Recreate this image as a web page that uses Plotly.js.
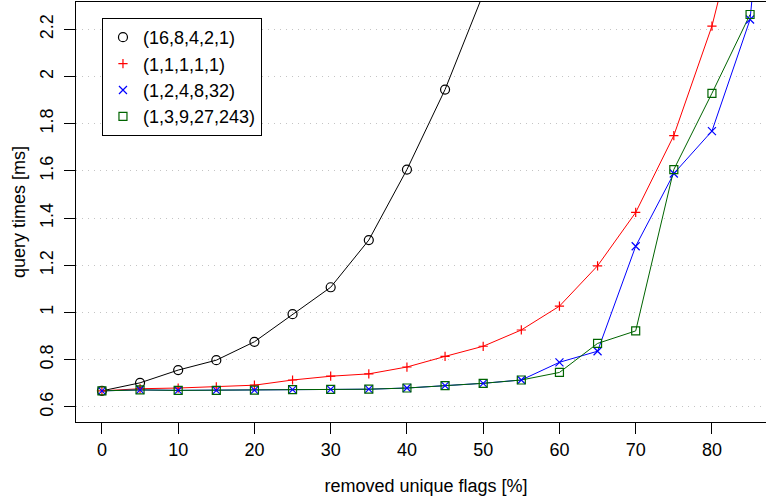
<!DOCTYPE html>
<html>
<head>
<meta charset="utf-8">
<script src="https://cdn.plot.ly/plotly-3.0.1.min.js"></script>
<style>
html,body{margin:0;padding:0;overflow:hidden;background:#fff;width:766px;height:499px;}
#chart{width:777px;height:499px;}
</style>
</head>
<body>
<div id="chart"></div>
<script>
// removed unique flags [%]
var removedPct = [0,5,10,15,20,25,30,35,40,45,50,55,60,65,70,75,80,85,90];
// query times [ms] per weighting
var seriesNames = ["(16,8,4,2,1)", "(1,1,1,1,1)", "(1,2,4,8,32)", "(1,3,9,27,243)"];
var times_16_8_4_2_1 = [0.668,0.702,0.756,0.798,0.876,0.993,1.107,1.307,1.606,1.945,2.35];
var times_1_1_1_1_1 = [0.668,0.677,0.680,0.685,0.692,0.714,0.730,0.740,0.769,0.814,0.857,0.926,1.027,1.198,1.424,1.750,2.214,2.86];
var times_1_2_4_8_32 = [0.668,0.672,0.670,0.670,0.671,0.673,0.674,0.675,0.680,0.690,0.700,0.714,0.789,0.836,1.281,1.589,1.769,2.242,3.95];
var times_1_3_9_27_243 = [0.668,0.672,0.670,0.670,0.671,0.673,0.674,0.675,0.680,0.690,0.700,0.714,0.746,0.869,0.922,1.606,1.929,2.263];
var xTickVals = [0,10,20,30,40,50,60,70,80];
var yTickVals = [0.6,0.8,1.0,1.2,1.4,1.6,1.8,2.0,2.2];
var yTickText = ["0.6","0.8","1","1.2","1.4","1.6","1.8","2","2.2"];

var allY = [times_16_8_4_2_1, times_1_1_1_1_1, times_1_2_4_8_32, times_1_3_9_27_243];
var colors = ["#000000", "#ff0000", "#0000ff", "#006400"];
var symbols = ["circle-open", "cross-thin-open", "x-thin-open", "square-open"];
var sizes = [9, 6.6, 8, 8];

var traces = [];
// connecting lines
for (var i = 0; i < 4; i++) {
  traces.push({x: removedPct.slice(0, allY[i].length), y: allY[i], type: "scatter", mode: "lines",
    line: {color: colors[i], width: 1}, showlegend: false, hoverinfo: "skip"});
}
// point symbols
for (var i = 0; i < 4; i++) {
  traces.push({x: removedPct.slice(0, allY[i].length), y: allY[i], type: "scatter", mode: "markers",
    name: seriesNames[i],
    marker: {color: colors[i], size: sizes[i], symbol: symbols[i], line: {color: colors[i], width: 1.2}}});
}

var font = {family: "Liberation Sans, Arial, Helvetica, sans-serif", size: 18, color: "#000"};
var xRange = [-3.4, 88.4], yRange = [0.536, 2.316];
var layout = {
  width: 777, height: 499,
  margin: {l: 76, r: 1, t: 2, b: 77},
  paper_bgcolor: "#fff", plot_bgcolor: "#fff",
  font: font,
  showlegend: true,
  legend: {x: 0.0371, y: 0.962, xanchor: "left", yanchor: "top", bgcolor: "#fff",
    bordercolor: "#000", borderwidth: 1, font: font, tracegroupgap: 0},
  xaxis: {
    range: xRange, tickmode: "array", tickvals: xTickVals, ticktext: xTickVals.map(String),
    showgrid: false, zeroline: false, showline: true, linecolor: "#000", linewidth: 1, mirror: true,
    ticks: "outside", ticklen: 11, tickcolor: "#000", tickwidth: 1, ticklabelstandoff: 0,
    title: {text: "removed unique flags [%]", font: font, standoff: 20}
  },
  yaxis: {
    range: yRange, tickmode: "array", tickvals: yTickVals, ticktext: yTickText, tickangle: -90,
    showgrid: true, gridcolor: "#c4c4c4", gridwidth: 1, griddash: "1px,5px",
    zeroline: false, showline: true, linecolor: "#000", linewidth: 1, mirror: true,
    ticks: "outside", ticklen: 11, tickcolor: "#000", tickwidth: 1, ticklabelstandoff: 4,
    title: {text: "query times [ms]", font: font, standoff: 6}
  }
};
Plotly.newPlot("chart", traces, layout, {staticPlot: true, displayModeBar: false});
</script>
</body>
</html>
